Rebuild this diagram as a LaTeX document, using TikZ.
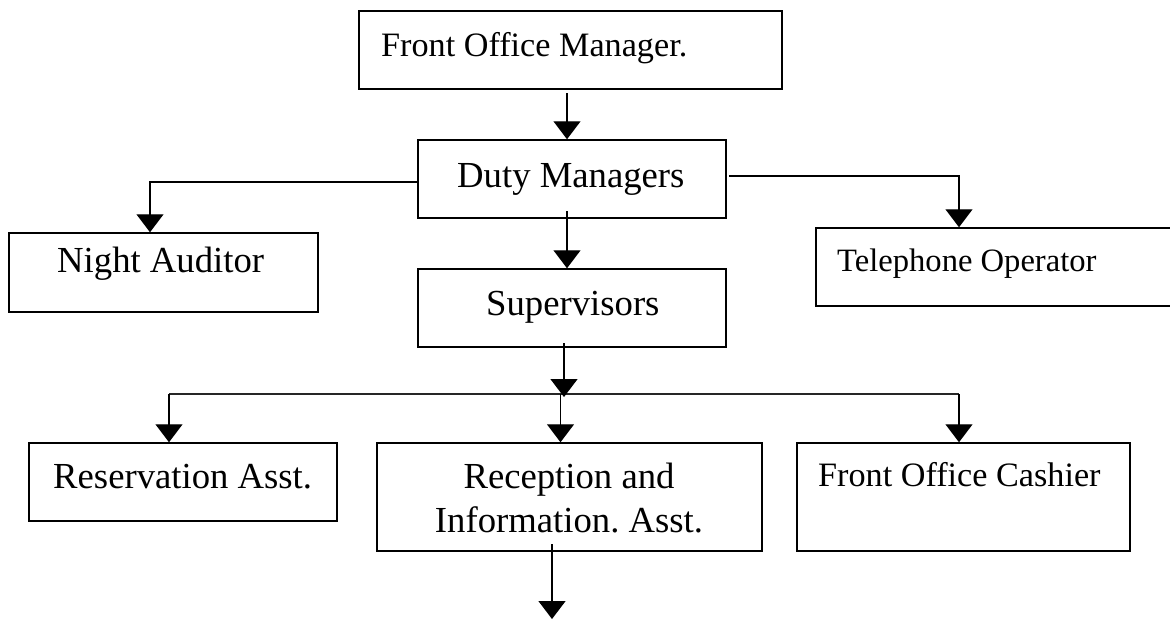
\documentclass[tikz,border=0pt]{standalone}
\usepackage{fontspec}
\setmainfont{Liberation Serif}
\usetikzlibrary{arrows.meta}
\frenchspacing
\begin{document}
\begin{tikzpicture}[x=1pt,y=-1pt,
  box/.style={draw=black,line width=1.5pt,rectangle,inner sep=0pt},
  conn/.style={draw=black,line width=1.3pt},
  thinconn/.style={draw=black!85,line width=1.1pt},
  arr/.style={conn,-{Triangle[width=27pt,length=18pt]}},
  lbl/.style={anchor=base west,inner sep=0pt},
  lblc/.style={anchor=base,inner sep=0pt},
  big/.style={font=\fontsize{36.7}{44}\selectfont},
  mid/.style={font=\fontsize{34.2}{41}\selectfont},
  sml/.style={font=\fontsize{32.6}{39}\selectfont}]
\useasboundingbox (0,0) rectangle (1170,619);
% boxes
\node[box,minimum width=423pt,minimum height=78pt] (top) at (570.5,50) {};
\node[box,minimum width=308pt,minimum height=78pt] (duty) at (572,179) {};
\node[box,minimum width=309pt,minimum height=79pt] (night) at (163.5,272.5) {};
\node[box,minimum width=359pt,minimum height=78pt] (tel) at (995.5,267) {};
\node[box,minimum width=308pt,minimum height=78pt] (sup) at (572,308) {};
\node[box,minimum width=308pt,minimum height=78pt] (res) at (183,482) {};
\node[box,minimum width=385pt,minimum height=108pt] (rec) at (569.5,497) {};
\node[box,minimum width=333pt,minimum height=108pt] (cash) at (963.5,497) {};
% texts
\node[lbl,mid] (topT) at (381,56) {Front Office Manager.};
\node[lbl,big] (dutyT) at (457,187) {Duty Managers};
\node[lbl,big] (nightT) at (57,272) {Night Auditor};
\node[lbl,sml] (telT) at (837,271) {Telephone Operator};
\node[lbl,big] (supT) at (486,315) {Supervisors};
\node[lbl,big] (resT) at (53,488) {Reservation Asst.};
\node[lblc,big] (recT1) at (569,488) {Reception and};
\node[lblc,big] (recT2) at (569,532) {Information. Asst.};
\node[lbl,mid] (cashT) at (818,486) {Front Office Cashier};
% connector points
\coordinate (c1) at (567,93);
\coordinate (lb) at (150,182);
\coordinate (rs) at (729,176);
\coordinate (rb) at (959,176);
\coordinate (c2) at (567,211);
\coordinate (c3) at (564,343);
\coordinate (c3e) at (564,397);
\coordinate (hl) at (169,394);
\coordinate (hm) at (560.5,394);
\coordinate (hr) at (959,394);
\coordinate (c4) at (552,544);
\coordinate (c4e) at (552,619);
% connectors
\draw[arr] (c1) -- (c1 |- duty.north);
\draw[arr] (duty.west |- lb) -- (lb) -- (lb |- night.north);
\draw[arr] (rs) -- (rb) -- (rb |- tel.north);
\draw[arr] (c2) -- (c2 |- sup.north);
\draw[thinconn] (hl) -- (hr);
\draw[arr] (c3) -- (c3e);
\draw[arr] (hl) -- (hl |- res.north);
\draw[arr] (hm) -- (hm |- rec.north);
\draw[arr] (hr) -- (hr |- cash.north);
\draw[arr] (c4) -- (c4e);
\end{tikzpicture}
\end{document}
